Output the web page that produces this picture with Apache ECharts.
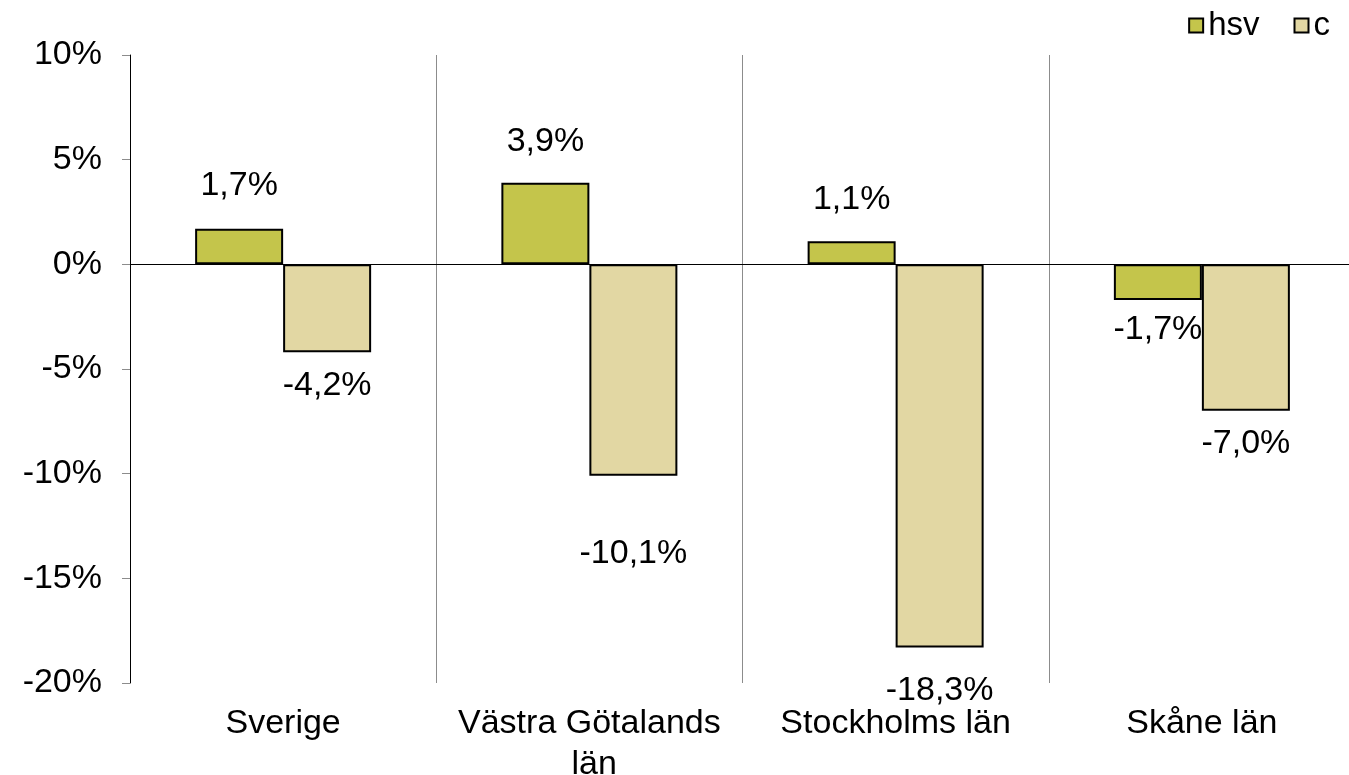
<!DOCTYPE html>
<html>
<head>
<meta charset="utf-8">
<script src="https://cdn.jsdelivr.net/npm/echarts@6/dist/echarts.min.js"></script>
<style>
  html, body { margin: 0; padding: 0; background: #fff; }
  #chart { width: 1349px; height: 775px; }
</style>
</head>
<body>
<div id="chart"></div>
<script>
const categories = ['Sverige', 'Västra Götalands län', 'Stockholms län', 'Skåne län'];
const hsvValues = [1.7, 3.9, 1.1, -1.7];
const cValues = [-4.2, -10.1, -18.3, -7.0];
const yTicks = { min: -20, max: 10, step: 5 };

// label distances from the bar end (styling only)
const hsvLabelDist = [26, 24, 25, 13];
const cLabelDist = [16, 61, 26, 16];

const font = 'Liberation Sans, Arial, sans-serif';
const fmt = v => v.toFixed(1).replace('.', ',') + '%';

function barData(values, dists) {
    return values.map((v, i) => ({
        value: v,
        label: { position: v >= 0 ? 'top' : 'bottom', distance: dists[i] }
    }));
}

const chart = echarts.init(document.getElementById('chart'));
chart.setOption({
    animation: false,
    textStyle: { fontFamily: font },
    legend: {
        right: 14,
        top: 4,
        itemWidth: 14,
        itemHeight: 14,
        itemGap: 34,
        icon: 'rect',
        textStyle: { fontSize: 33, color: '#000', fontFamily: font }
    },
    grid: { left: 130, top: 55, width: 1225, height: 628, containLabel: false, outerBoundsMode: 'none' },
    xAxis: {
        type: 'category',
        data: categories,
        axisLine: { show: false },
        axisTick: { show: false },
        splitLine: { show: true, lineStyle: { color: '#8c8c8c', width: 1 } },
        axisLabel: {
            margin: 20,
            fontSize: 34,
            color: '#000',
            fontFamily: font,
            lineHeight: 41,
            width: 295,
            overflow: 'break',
            interval: 0
        }
    },
    yAxis: {
        type: 'value',
        min: yTicks.min,
        max: yTicks.max,
        interval: yTicks.step,
        axisLine: { show: true, lineStyle: { color: '#000', width: 1 } },
        axisTick: { show: true, length: 8, lineStyle: { color: '#8c8c8c' } },
        splitLine: { show: false },
        axisLabel: {
            formatter: '{value}%',
            fontSize: 34,
            color: '#000',
            fontFamily: font,
            margin: 28
        }
    },
    series: [
        {
            name: 'hsv',
            type: 'bar',
            data: barData(hsvValues, hsvLabelDist),
            barWidth: 88,
            barGap: '0%',
            itemStyle: { color: '#c4c54b', borderColor: '#000', borderWidth: 2 },
            label: {
                show: true,
                fontSize: 34,
                color: '#000',
                fontFamily: font,
                formatter: p => fmt(p.value)
            },
            markLine: {
                silent: true,
                symbol: 'none',
                label: { show: false },
                lineStyle: { color: '#000', width: 1, type: 'solid' },
                data: [{ yAxis: 0 }]
            }
        },
        {
            name: 'c',
            type: 'bar',
            data: barData(cValues, cLabelDist),
            barWidth: 88,
            barGap: '0%',
            itemStyle: { color: '#e2d7a3', borderColor: '#000', borderWidth: 2 },
            label: {
                show: true,
                fontSize: 34,
                color: '#000',
                fontFamily: font,
                formatter: p => fmt(p.value)
            }
        }
    ]
});
</script>
</body>
</html>
